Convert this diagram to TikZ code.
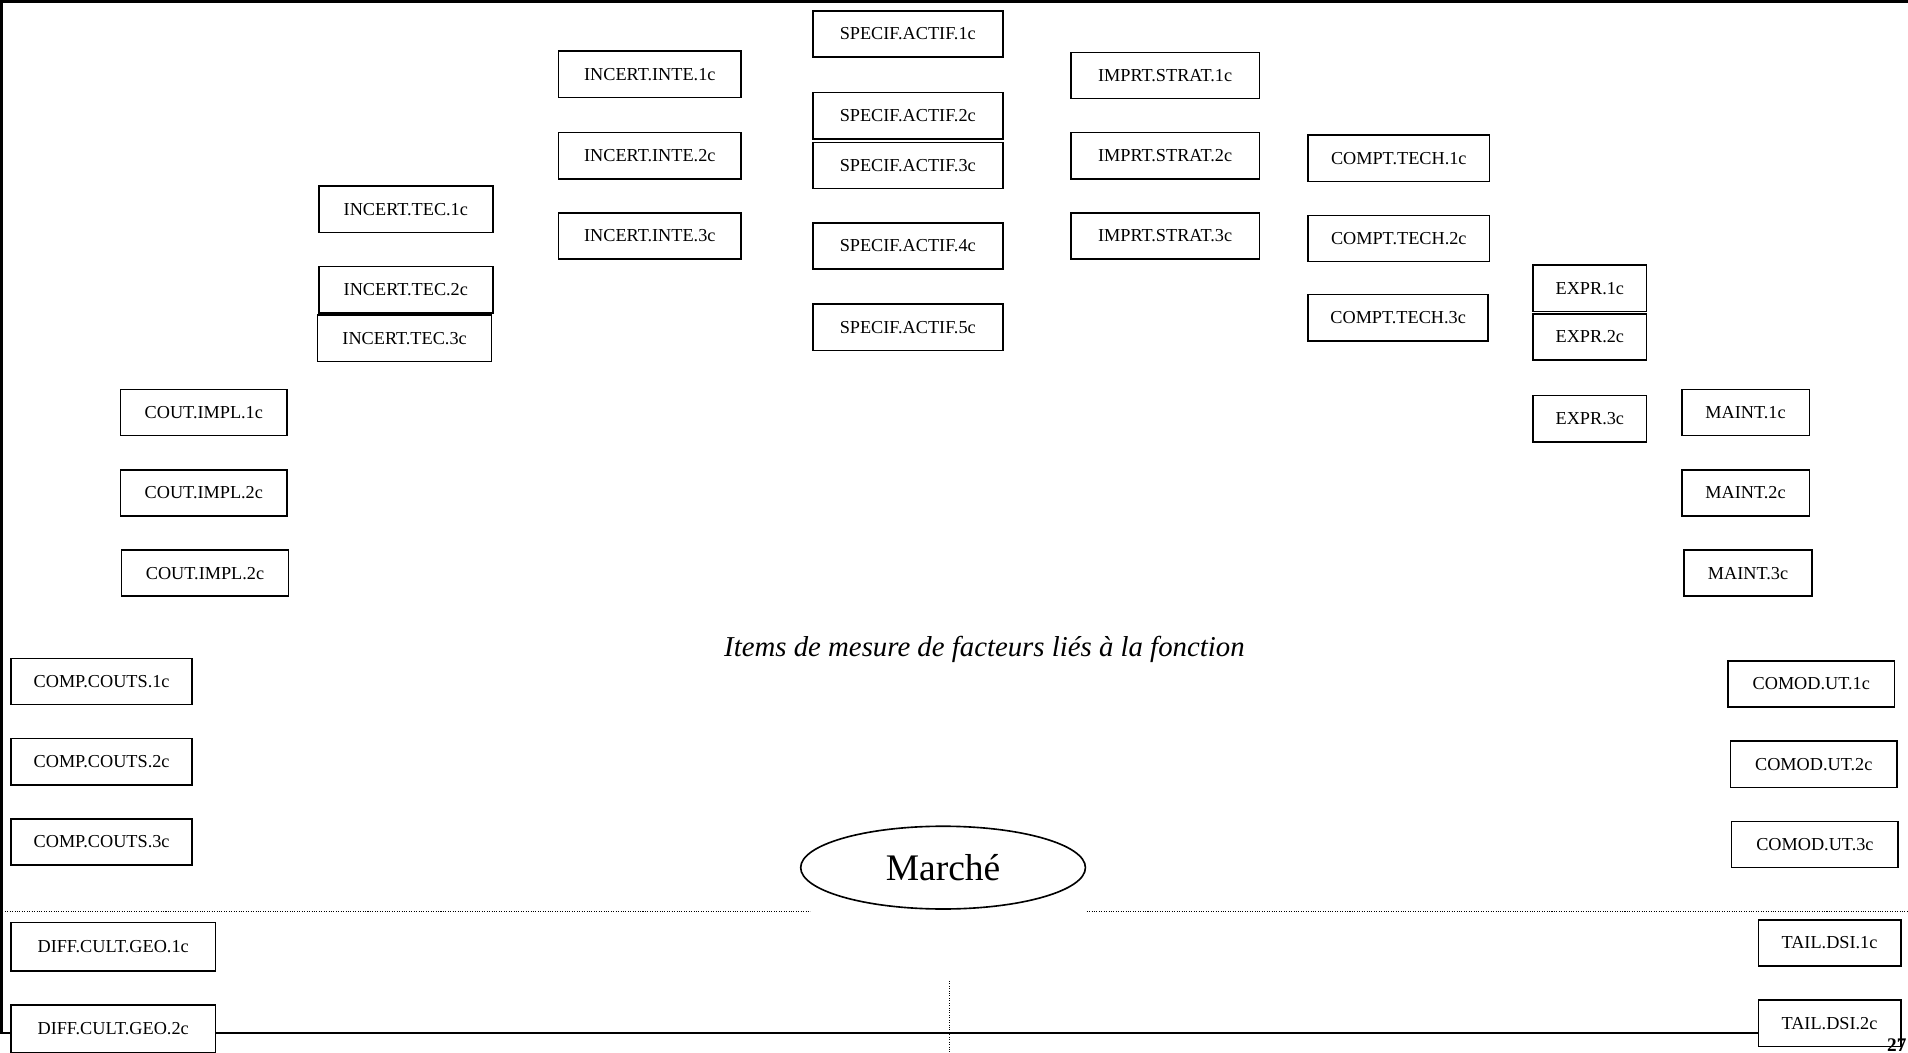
\documentclass[tikz,border=0pt]{standalone}
\usepackage{fontspec}
\setmainfont{Liberation Serif}
\usetikzlibrary{shapes.geometric}

% item box given by its corners (left, top, right, bottom) in page units
\newcommand\itembx[6]{%
  \node[itembox, minimum width={(#4-#2)*0.6pt}, minimum height={(#5-#3)*0.6pt}]
    (#1) at ({(#2+#4)/2},{(#3+#5)/2}) {#6};}

\begin{document}
\begin{tikzpicture}[x=0.6pt,y=-0.6pt,
  itembox/.style={draw, line width=0.8pt, fill=white, inner sep=0pt, outer sep=0pt,
    font=\fontsize{9}{10}\selectfont},
  frameline/.style={line width=1.3pt},
  sepline/.style={line width=0.5pt, dash pattern=on 0.5pt off 0.7pt}]
\useasboundingbox (0,0) rectangle (1568,865);
\clip (0,0) rectangle (1568,865);

% page frame
\draw[frameline] (1568,1) -- (1,1) -- (1,849) -- (1562,849);

% dotted separators
\draw[sepline] (0,749) -- (666,749);
\draw[sepline] (893,749) -- (1568,749);
\draw[sepline] (780,806) -- (780,865);

% column: technical uncertainty
\itembx{it1}{262}{153}{405}{191}{INCERT.TEC.1c}
\itembx{it2}{262}{219}{405}{257}{INCERT.TEC.2c}
\itembx{it3}{261}{259}{404}{297}{INCERT.TEC.3c}

% column: integration uncertainty
\itembx{ii1}{459}{42}{609}{80}{INCERT.INTE.1c}
\itembx{ii2}{459}{109}{609}{147}{INCERT.INTE.2c}
\itembx{ii3}{459}{175}{609}{213}{INCERT.INTE.3c}

% column: asset specificity
\itembx{sa1}{668}{9}{824}{47}{SPECIF.ACTIF.1c}
\itembx{sa2}{668}{76}{824}{114}{SPECIF.ACTIF.2c}
\itembx{sa3}{668}{117}{824}{155}{SPECIF.ACTIF.3c}
\itembx{sa4}{668}{183}{824}{221}{SPECIF.ACTIF.4c}
\itembx{sa5}{668}{250}{824}{288}{SPECIF.ACTIF.5c}

% column: strategic importance
\itembx{is1}{880}{43}{1035}{81}{IMPRT.STRAT.1c}
\itembx{is2}{880}{109}{1035}{147}{IMPRT.STRAT.2c}
\itembx{is3}{880}{175}{1035}{213}{IMPRT.STRAT.3c}

% column: technical competence
\itembx{ct1}{1075}{111}{1224}{149}{COMPT.TECH.1c}
\itembx{ct2}{1075}{177}{1224}{215}{COMPT.TECH.2c}
\itembx{ct3}{1075}{242}{1223}{280}{COMPT.TECH.3c}

% column: expertise
\itembx{ex1}{1260}{218}{1353}{256}{EXPR.1c}
\itembx{ex2}{1260}{258}{1353}{296}{EXPR.2c}
\itembx{ex3}{1260}{325}{1353}{363}{EXPR.3c}

% column: maintenance
\itembx{mt1}{1382}{320}{1487}{358}{MAINT.1c}
\itembx{mt2}{1382}{386}{1487}{424}{MAINT.2c}
\itembx{mt3}{1384}{452}{1489}{490}{MAINT.3c}

% column: implementation cost
\itembx{ci1}{99}{320}{236}{358}{COUT.IMPL.1c}
\itembx{ci2}{99}{386}{236}{424}{COUT.IMPL.2c}
\itembx{ci3}{100}{452}{237}{490}{COUT.IMPL.2c}

% column: cost comparison
\itembx{cc1}{9}{541}{158}{579}{COMP.COUTS.1c}
\itembx{cc2}{9}{607}{158}{645}{COMP.COUTS.2c}
\itembx{cc3}{9}{673}{158}{711}{COMP.COUTS.3c}

% column: user convenience
\itembx{cu1}{1420}{543}{1557}{581}{COMOD.UT.1c}
\itembx{cu2}{1422}{609}{1559}{647}{COMOD.UT.2c}
\itembx{cu3}{1423}{675}{1560}{713}{COMOD.UT.3c}

% market block
\itembx{dg1}{9}{758}{177}{798}{DIFF.CULT.GEO.1c}
\itembx{dg2}{9}{826}{177}{865}{DIFF.CULT.GEO.2c}
\itembx{td1}{1445}{756}{1562}{794}{TAIL.DSI.1c}
\itembx{td2}{1445}{822}{1562}{860}{TAIL.DSI.2c}

% captions
\node (titre) at (809,534) {\fontsize{14.2}{16}\selectfont\itshape Items de mesure de facteurs liés à la fonction};
\node[draw, ellipse, line width=0.8pt, fill=white, inner sep=0pt,
  minimum width={234*0.6pt}, minimum height={68*0.6pt}] (marche) at (775,713)
  {\fontsize{18.5}{20}\selectfont Marché};

% page number
\node[anchor=north east, inner sep=0pt, font=\bfseries\fontsize{9.5}{10}\selectfont] (page) at (1567,853) {27};
\end{tikzpicture}
\end{document}
